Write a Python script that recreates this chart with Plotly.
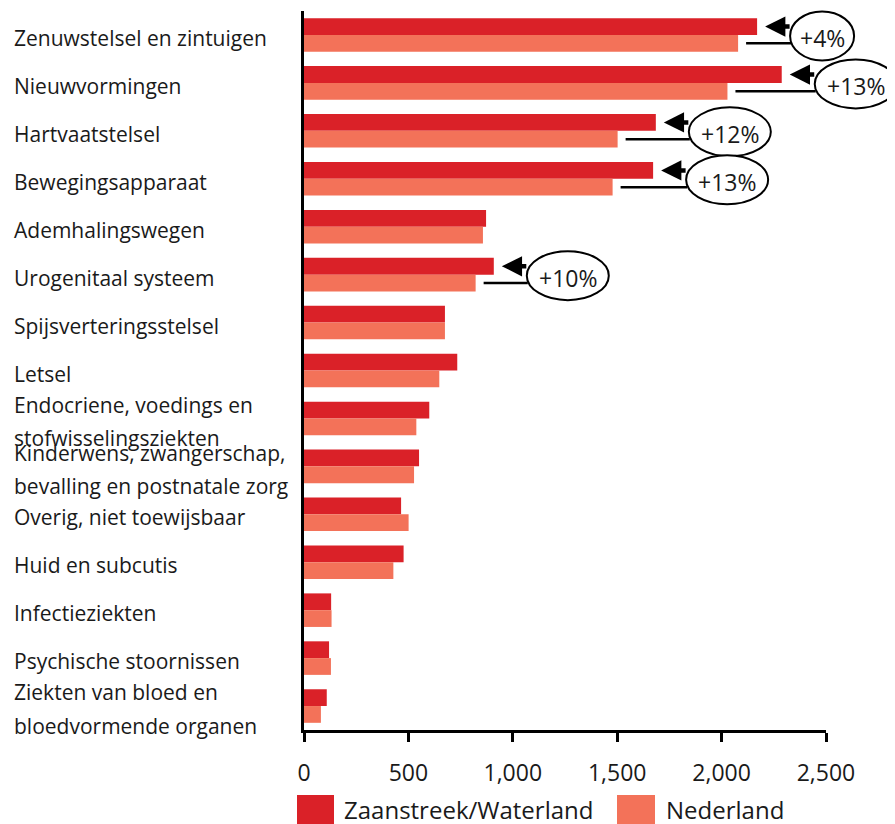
import plotly.graph_objects as go

categories = [
    "Zenuwstelsel en zintuigen",
    "Nieuwvormingen",
    "Hartvaatstelsel",
    "Bewegingsapparaat",
    "Ademhalingswegen",
    "Urogenitaal systeem",
    "Spijsverteringsstelsel",
    "Letsel",
    "Endocriene, voedings en<br>stofwisselingsziekten",
    "Kinderwens, zwangerschap,<br>bevalling en postnatale zorg",
    "Overig, niet toewijsbaar",
    "Huid en subcutis",
    "Infectieziekten",
    "Psychische stoornissen",
    "Ziekten van bloed en<br>bloedvormende organen",
]
zaanstreek = [2170, 2288, 1685, 1672, 872, 909, 675, 734, 600, 551, 465, 477, 130, 120, 109]
nederland = [2079, 2028, 1502, 1478, 857, 822, 675, 648, 538, 527, 501, 428, 132, 129, 81]

series_names = ["Zaanstreek/Waterland", "Nederland"]
tick_values = [0, 500, 1000, 1500, 2000, 2500]

# percentage callouts: category index and label
callout_idx = [0, 1, 2, 3, 5]
callout_text = ["+4%", "+13%", "+12%", "+13%", "+10%"]
callout_w = [64, 82, 82, 82, 82]

RED = "#DA2128"
SALMON = "#F37259"
FONT = "Open Sans"

OFF = 8  # page body margin
W, H = 895 - OFF, 824 - OFF
ML, MT = 304 - OFF, 11 - OFF
PW, PH = 522, 719
MR = W - ML - PW
MB = H - MT - PH
XMAX = 2500
U = XMAX / PW  # data units per pixel
N = len(categories)

ycats = list(range(N))

fig = go.Figure()
fig.add_trace(go.Bar(y=ycats, x=zaanstreek, orientation="h", name=series_names[0],
                     marker=dict(color=RED, line=dict(width=0))))
fig.add_trace(go.Bar(y=ycats, x=nederland, orientation="h", name=series_names[1],
                     marker=dict(color=SALMON, line=dict(width=0))))

shapes = []
annotations = []


def px_x(p):
    # screenshot x pixel -> paper
    return (p - OFF - ML) / PW


def px_y(p):
    # screenshot y pixel -> paper
    return (MT + PH - (p - OFF)) / PH


# category labels, left aligned
for i, cat in enumerate(categories):
    lines = cat.split("<br>")
    n = len(lines)
    for k, ln in enumerate(lines):
        off = (k - (n - 1) / 2) * 33.5
        annotations.append(dict(
            xref="paper", yref="y", x=px_x(12), y=i, xanchor="left", yanchor="middle",
            text=ln, showarrow=False, yshift=-3 - off,
            font=dict(family=FONT, size=21, color="#1a1a1a")))

# callouts
for idx, txt, wpx in zip(callout_idx, callout_text, callout_w):
    z = zaanstreek[idx]
    nl = nederland[idx]
    # line from NL bar to ellipse
    shapes.append(dict(type="line", xref="x", yref="y",
                       x0=nl + 8 * U, x1=z + 34 * U, y0=idx + 0.175, y1=idx + 0.175,
                       line=dict(color="black", width=2.5), layer="above"))
    # ellipse
    xl = (z / XMAX) + 33 / PW
    yc = 1 - (idx + 0.5) / N - 1 / PH
    shapes.append(dict(type="circle", xref="paper", yref="paper",
                       x0=xl, x1=xl + wpx / PW, y0=yc - 24.5 / PH, y1=yc + 24.5 / PH,
                       line=dict(color="black", width=2), fillcolor="white", layer="above"))
    annotations.append(dict(xref="paper", yref="paper", x=xl + wpx / PW / 2, y=yc,
                            text=txt, showarrow=False, xanchor="center", yanchor="middle",
                            yshift=-2,
                            font=dict(family=FONT, size=23, color="#1a1a1a")))
    # arrow pointing to Zaanstreek bar
    annotations.append(dict(xref="x", yref="y", x=z + 8 * U, y=idx - 0.175,
                            ax=26, ay=0, axref="pixel", ayref="pixel", text="",
                            showarrow=True, arrowhead=2, arrowsize=0.9, arrowwidth=4.5,
                            arrowcolor="black", standoff=0, startstandoff=0))

# custom legend
legend_items = [(297, 334, 342, series_names[0], RED), (617, 655, 664, series_names[1], SALMON)]
for x0, x1, tx, name, col in legend_items:
    shapes.append(dict(type="rect", xref="paper", yref="paper",
                       x0=px_x(x0), x1=px_x(x1), y0=px_y(826), y1=px_y(795),
                       fillcolor=col, line=dict(width=0)))
    annotations.append(dict(xref="paper", yref="paper", x=px_x(tx), y=px_y(809),
                            xanchor="left", yanchor="middle", text=name, showarrow=False,
                            font=dict(family=FONT, size=24, color="#1a1a1a")))

fig.update_layout(
    width=W, height=H,
    margin=dict(l=ML, r=MR, t=MT, b=MB),
    paper_bgcolor="white", plot_bgcolor="white",
    barmode="group", bargap=0.3, bargroupgap=0,
    showlegend=False,
    shapes=shapes, annotations=annotations,
    font=dict(family=FONT, color="#1a1a1a"),
)
fig.update_xaxes(range=[0, XMAX], tickvals=tick_values, tickformat=",d",
                 showgrid=False, zeroline=False, showline=True, linecolor="black", linewidth=2.5,
                 ticks="outside", ticklen=9, tickwidth=2.5, tickcolor="black",
                 ticklabelstandoff=12,
                 tickfont=dict(family=FONT, size=23, color="#1a1a1a"))
fig.update_yaxes(range=[N - 0.5, -0.5], showticklabels=False, showgrid=False, zeroline=False,
                 showline=True, linecolor="black", linewidth=3, ticks="")

fig.write_html("out.html")
